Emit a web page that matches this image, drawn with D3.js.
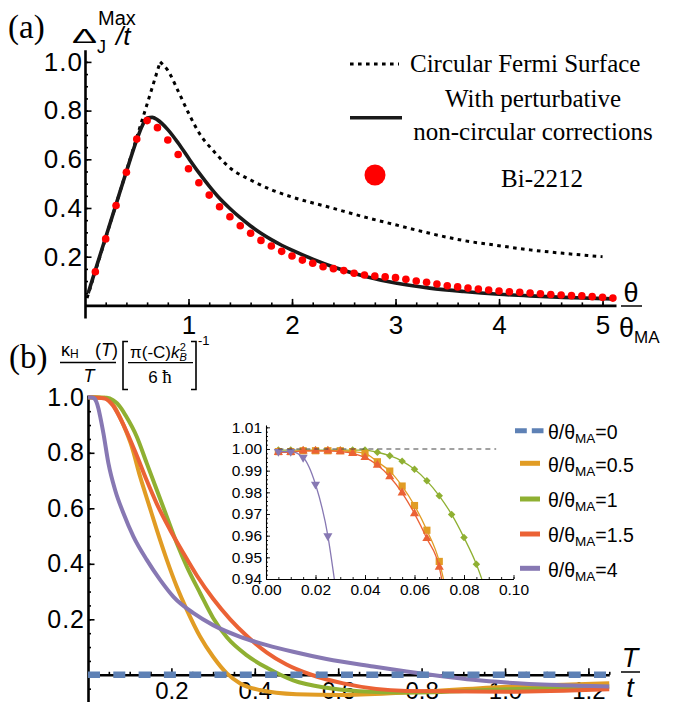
<!DOCTYPE html>
<html>
<head>
<meta charset="utf-8">
<script src="https://cdn.jsdelivr.net/npm/d3@7"></script>
<style>
  html, body { margin: 0; padding: 0; background: #fff; }
  svg { display: block; }
</style>
</head>
<body>
<svg id="fig" width="676" height="702"></svg>
<script>
// ---------------- panel (a): maximal Josephson gap vs twist angle ----------------
const dotTheta = [0.1,0.2,0.3,0.4,0.5,0.6,0.7,0.8,0.9,1.0,
                  1.1,1.2,1.3,1.4,1.5,1.6,1.7,1.8,1.9,2.0,
                  2.1,2.2,2.3,2.4,2.5,2.6,2.7,2.8,2.9,3.0,
                  3.1,3.2,3.3,3.4,3.5,3.6,3.7,3.8,3.9,4.0,
                  4.1,4.2,4.3,4.4,4.5,4.6,4.7,4.8,4.9,5.0,5.1];
const dotGap   = [0.138,0.273,0.410,0.547,0.683,0.759,0.730,0.679,0.620,0.561,
                  0.504,0.453,0.405,0.364,0.327,0.296,0.267,0.244,0.222,0.203,
                  0.186,0.173,0.159,0.151,0.143,0.132,0.125,0.121,0.117,0.114,
                  0.107,0.100,0.095,0.088,0.081,0.076,0.071,0.067,0.063,0.059,
                  0.056,0.054,0.051,0.048,0.045,0.043,0.040,0.039,0.036,0.033,0.030];

// circular Fermi surface (dotted): linear rise to a cusp, then slow decay
const circRiseTheta = [0.02, 0.726];
const circRiseGap   = [0.03, 1.0];
const circFallTheta = [0.726,0.8,0.9,1.0,1.1,1.25,1.4,1.6,1.8,2.0,2.37,2.69,3.01,3.33,3.65,3.97,4.3,4.62,5.0];
const circFallGap   = [1.0,0.965,0.88,0.79,0.71,0.63,0.565,0.515,0.475,0.445,0.402,0.364,0.33,0.296,0.267,0.247,0.228,0.214,0.20];

// with perturbative non-circular corrections (solid)
const pertTheta = [0.03,0.1,0.2,0.3,0.4,0.5,0.55,0.6,0.65,0.7,0.8,0.9,1.0,1.1,1.2,1.3,1.4,1.5,1.6,1.7,1.8,1.9,2.0,2.2,2.4,2.7,3.0,3.33,3.66,4.0,4.3,4.62,4.94,5.1];
const pertGap   = [0.05,0.145,0.28,0.415,0.55,0.68,0.735,0.77,0.772,0.762,0.722,0.667,0.605,0.545,0.49,0.44,0.398,0.36,0.326,0.296,0.27,0.247,0.227,0.19,0.158,0.12,0.092,0.071,0.057,0.046,0.039,0.033,0.029,0.027];

const aXMajor = [1,2,3,4,5];
const aYMajor = [0.2,0.4,0.6,0.8,1.0];

// ---------------- panel (b): thermal Hall conductivity ----------------
const ratioLabels = ["0","0.5","1","1.5","4"];
const seriesColors = ["#5E81B5","#E19C24","#8FB032","#EB6235","#8778B3"];

const tZero = [0, 1.25];
const kZero = [0, 0];

const tHalf = [0,0.04,0.05,0.06,0.07,0.085,0.105,0.125,0.145,0.165,0.189,0.213,0.237,0.269,0.300,0.333,0.365,0.412,0.5,0.604,0.764,1.004,1.25];
const kHalf = [1,0.998,0.99,0.974,0.948,0.9,0.822,0.714,0.618,0.522,0.414,0.317,0.234,0.137,0.065,0.005,-0.031,-0.055,-0.07,-0.073,-0.064,-0.043,-0.03];

const tOne = [0,0.045,0.06,0.07,0.08,0.09,0.117,0.141,0.165,0.189,0.213,0.237,0.269,0.300,0.333,0.381,0.429,0.492,0.572,0.65,0.764,1.004,1.25];
const kOne = [1,0.998,0.99,0.978,0.959,0.935,0.858,0.762,0.666,0.57,0.474,0.39,0.294,0.205,0.135,0.07,0.025,-0.02,-0.047,-0.059,-0.064,-0.052,-0.043];

const tOneHalf = [0,0.04,0.05,0.06,0.07,0.093,0.117,0.141,0.165,0.197,0.229,0.261,0.300,0.341,0.381,0.429,0.476,0.532,0.612,0.764,1.004,1.25];
const kOneHalf = [1,0.996,0.987,0.97,0.945,0.875,0.79,0.7,0.616,0.522,0.438,0.358,0.274,0.2,0.14,0.08,0.037,0.002,-0.031,-0.058,-0.061,-0.052];

const tFour = [0,0.01,0.015,0.02,0.025,0.03,0.037,0.049,0.065,0.085,0.109,0.141,0.173,0.205,0.253,0.300,0.365,0.429,0.492,0.572,0.684,0.764,0.844,0.924,1.004,1.124,1.25];
const kFour = [1,0.999,0.996,0.984,0.96,0.925,0.87,0.762,0.666,0.582,0.498,0.414,0.342,0.281,0.222,0.179,0.137,0.107,0.083,0.057,0.03,0.012,-0.004,-0.018,-0.028,-0.037,-0.042];

const bXMajor = [0.2,0.4,0.6,0.8,1.0,1.2];
const bYMajor = [0.2,0.4,0.6,0.8,1.0];

// inset: low-temperature detail, markers plus the point where each line leaves the frame
const insetTHalf = [0.005,0.01,0.015,0.02,0.025,0.03,0.035,0.04,0.045,0.05,0.055,0.06,0.065,0.07];
const insetKHalf = [0.9988,0.9988,0.9992,0.9992,0.9992,0.9992,0.9988,0.998,0.9941,0.9898,0.9829,0.9739,0.9625,0.9481];
const insetExitHalf = 0.0717;

const insetTOne = [0.005,0.01,0.015,0.02,0.025,0.03,0.035,0.04,0.045,0.05,0.055,0.06,0.065,0.07,0.075,0.08,0.085];
const insetKOne = [0.9995,0.9995,0.9995,0.9995,0.9995,0.9995,0.9995,0.9995,0.9985,0.9969,0.9944,0.9906,0.9853,0.9784,0.9698,0.9591,0.9468];
const insetExitOne = 0.0872;

const insetTOneHalf = [0.005,0.01,0.015,0.02,0.025,0.03,0.035,0.04,0.045,0.05,0.055,0.06,0.065,0.07];
const insetKOneHalf = [0.9985,0.9985,0.9991,0.9991,0.9991,0.9988,0.998,0.9961,0.9926,0.9872,0.9798,0.9702,0.9587,0.9455];
const insetExitOneHalf = 0.071;

const insetTFour = [0.005,0.01,0.015,0.02,0.025];
const insetKFour = [0.9988,0.9988,0.9961,0.9837,0.9599];
const insetExitFour = 0.0276;

const insetXMajor = [0,0.02,0.04,0.06,0.08,0.10];
const insetYMajor = [0.94,0.95,0.96,0.97,0.98,0.99,1.00,1.01];
const insetRef = 1.0;

// ---------------------------------------------------------------------------
const SANS = "'Liberation Sans', Arial, Helvetica, sans-serif";
const SERIF = "'Liberation Serif', 'Times New Roman', Times, serif";
const svg = d3.select("#fig");
svg.append("rect").attr("width", 676).attr("height", 702).attr("fill", "#fff");

const zip = (xs, ys) => xs.map((x, i) => [x, ys[i]]);
const steps = (a, b, s) => d3.range(Math.round((b - a) / s) + 1).map(i => +(a + i * s).toFixed(6));

function styleAxis(g, o, fs, ls) {
  g.select(".domain").attr("stroke", "#000").attr("stroke-width", o.lw);
  g.selectAll(".tick line").attr("stroke", "#000").attr("stroke-width", o.tw);
  g.selectAll(".tick text").attr("font-family", SANS).attr("font-size", fs)
    .attr("letter-spacing", ls || 0).attr("fill", "#000");
}

function axes(parent, x, y, o) {
  const g = parent.append("g");
  const xAt = y(o.xAt), yAt = x(o.yAt);
  // minor ticks
  g.append("g").attr("transform", `translate(0,${xAt})`)
    .call(d3.axisBottom(x).tickValues(o.xMinor).tickSize(-o.minLen).tickFormat(""))
    .call(s => { s.select(".domain").remove(); s.selectAll("line").attr("stroke", "#000").attr("stroke-width", o.tw); });
  g.append("g").attr("transform", `translate(${yAt},0)`)
    .call(d3.axisLeft(y).tickValues(o.yMinor).tickSize(-o.minLen).tickFormat(""))
    .call(s => { s.select(".domain").remove(); s.selectAll("line").attr("stroke", "#000").attr("stroke-width", o.tw); });
  // major ticks, labels and axis lines
  g.append("g").attr("transform", `translate(0,${xAt})`)
    .call(d3.axisBottom(x).tickValues(o.xMajor).tickSize(-o.majLen).tickSizeOuter(0)
      .tickPadding(o.xPad).tickFormat(o.xFmt))
    .call(s => styleAxis(s, o, o.xfs, o.xls));
  g.append("g").attr("transform", `translate(${yAt},0)`)
    .call(d3.axisLeft(y).tickValues(o.yMajor).tickSize(-o.majLen).tickSizeOuter(0)
      .tickPadding(o.yPad).tickFormat(o.yFmt))
    .call(s => styleAxis(s, o, o.yfs, o.yls));
  return g;
}

// =========================== panel (a) ===========================
const xA = d3.scaleLinear().domain([0, 5.13]).range([85, 616]);
const yA = d3.scaleLinear().domain([-0.052, 1.05]).range([305.4 + 0.052 * 243.5, 305.4 - 1.05 * 243.5]);

const pa = svg.append("g");
axes(pa, xA, yA, {
  xAt: 0, yAt: 0, lw: 2.6, tw: 1.6, xfs: 26, yfs: 26, xls: 0, yls: 1, majLen: 6.5, minLen: 3,
  xMajor: aXMajor, xMinor: steps(0.2, 5.0, 0.2), xPad: 10, xFmt: d3.format("d"),
  yMajor: aYMajor, yMinor: steps(0.05, 1.0, 0.05), yPad: 2, yFmt: d3.format(".1f")
});

const lineA = d3.line().x(d => xA(d[0])).y(d => yA(d[1]));
pa.append("path").datum(zip(circRiseTheta, circRiseGap))
  .attr("d", lineA.curve(d3.curveLinear))
  .attr("fill", "none").attr("stroke", "#000").attr("stroke-width", 3).attr("stroke-dasharray", "3.6 4.4");
pa.append("path").datum(zip(circFallTheta, circFallGap))
  .attr("d", d3.line().x(d => xA(d[0])).y(d => yA(d[1])).curve(d3.curveMonotoneX))
  .attr("fill", "none").attr("stroke", "#000").attr("stroke-width", 3).attr("stroke-dasharray", "3.6 4.4");
pa.append("path").datum(zip(pertTheta, pertGap))
  .attr("d", d3.line().x(d => xA(d[0])).y(d => yA(d[1])).curve(d3.curveMonotoneX))
  .attr("fill", "none").attr("stroke", "#1a1a1a").attr("stroke-width", 3.6);
pa.append("g").selectAll("circle").data(zip(dotTheta, dotGap)).join("circle")
  .attr("cx", d => xA(d[0])).attr("cy", d => yA(d[1])).attr("r", 3.8).attr("fill", "#FF0000");

// panel label and axis titles
svg.append("text").attr("x", 8).attr("y", 38).attr("font-family", SERIF).attr("font-size", 33).text("(a)");
svg.append("text").attr("x", 72).attr("y", 43).attr("font-family", SANS).attr("font-size", 21)
  .attr("textLength", 25).attr("lengthAdjust", "spacingAndGlyphs").text("Δ");
svg.append("text").attr("x", 97).attr("y", 53).attr("font-family", SANS).attr("font-size", 18).text("J");
svg.append("text").attr("x", 98).attr("y", 25).attr("font-family", SANS).attr("font-size", 20).text("Max");
svg.append("text").attr("x", 116).attr("y", 45).attr("font-family", SANS).attr("font-size", 26)
  .attr("font-style", "italic").text("/t");

// θ/θ_MA
svg.append("text").attr("x", 631).attr("y", 302).attr("text-anchor", "middle")
  .attr("font-family", SANS).attr("font-size", 27).text("θ");
svg.append("line").attr("x1", 621).attr("x2", 642).attr("y1", 306).attr("y2", 306).attr("stroke", "#000").attr("stroke-width", 1.5);
const thMA = svg.append("text").attr("x", 619).attr("y", 337).attr("font-family", SANS).attr("font-size", 27);
thMA.append("tspan").text("θ");
thMA.append("tspan").attr("font-size", 17).attr("dy", 6).text("MA");

// legend (a)
const legA = svg.append("g").attr("font-family", SERIF).attr("font-size", 25).attr("fill", "#000");
legA.append("line").attr("x1", 350).attr("x2", 399).attr("y1", 64).attr("y2", 64)
  .attr("stroke", "#000").attr("stroke-width", 3).attr("stroke-dasharray", "3.6 4.4");
legA.append("text").attr("x", 410).attr("y", 72).text("Circular Fermi Surface");
legA.append("line").attr("x1", 350).attr("x2", 402).attr("y1", 117.7).attr("y2", 117.7)
  .attr("stroke", "#1a1a1a").attr("stroke-width", 3.4);
legA.append("text").attr("x", 533).attr("y", 107).attr("text-anchor", "middle").text("With perturbative");
legA.append("text").attr("x", 533).attr("y", 140).attr("text-anchor", "middle").text("non-circular corrections");
legA.append("circle").attr("cx", 375).attr("cy", 175).attr("r", 10.5).attr("fill", "#FF0000");
legA.append("text").attr("x", 542).attr("y", 187).attr("text-anchor", "middle").text("Bi-2212");

// =========================== panel (b) ===========================
const xB = d3.scaleLinear().domain([0, 1.25]).range([88, 88 + 1.25 * 417]);
const yB = d3.scaleLinear().domain([-0.1, 1.008]).range([674.8 + 0.1 * 277.5, 674.8 - 1.008 * 277.5]);

const pb = svg.append("g");
axes(pb, xB, yB, {
  xAt: 0, yAt: 0, lw: 2.6, tw: 1.6, xfs: 24, yfs: 25, xls: 0, yls: 1, majLen: 6.5, minLen: 3,
  xMajor: bXMajor, xMinor: steps(0.05, 1.25, 0.05), xPad: 7, xFmt: d3.format(".1f"),
  yMajor: bYMajor, yMinor: steps(-0.1, 1.0, 0.05), yPad: 3, yFmt: d3.format(".1f")
});

const lineB = d3.line().x(d => xB(d[0])).y(d => yB(d[1])).curve(d3.curveMonotoneX);
const curvesB = [
  { t: tHalf, k: kHalf, c: seriesColors[1] },
  { t: tOne, k: kOne, c: seriesColors[2] },
  { t: tOneHalf, k: kOneHalf, c: seriesColors[3] },
  { t: tFour, k: kFour, c: seriesColors[4] }
];
pb.append("g").selectAll("path").data(curvesB).join("path")
  .attr("d", d => lineB(zip(d.t, d.k)))
  .attr("fill", "none").attr("stroke", d => d.c).attr("stroke-width", 4).attr("stroke-linejoin", "round");
pb.append("path").datum(zip(tZero, kZero)).attr("d", lineB)
  .attr("fill", "none").attr("stroke", seriesColors[0]).attr("stroke-width", 6.5)
  .attr("stroke-dasharray", "12 13.3");

// panel label and y-axis title
svg.append("text").attr("x", 9).attr("y", 368).attr("font-family", SERIF).attr("font-size", 33).text("(b)");
const yt = svg.append("g").attr("font-family", SANS).attr("fill", "#000");
const kap = yt.append("text").attr("x", 61).attr("y", 356).attr("font-size", 18);
kap.append("tspan").text("κ");
kap.append("tspan").attr("font-size", 12).attr("dy", 2).text("H");
kap.append("tspan").attr("dy", -2).attr("x", 95).text("(");
kap.append("tspan").attr("font-style", "italic").text("T");
kap.append("tspan").text(")");
yt.append("line").attr("x1", 60).attr("x2", 116).attr("y1", 362.5).attr("y2", 362.5).attr("stroke", "#000").attr("stroke-width", 1.3);
yt.append("text").attr("x", 89).attr("y", 382).attr("text-anchor", "middle").attr("font-size", 18).attr("font-style", "italic").text("T");
// square brackets
yt.append("path").attr("d", "M128,341.5 H123 V389.5 H128").attr("fill", "none").attr("stroke", "#000").attr("stroke-width", 1.6);
yt.append("path").attr("d", "M191,341.5 H196 V389.5 H191").attr("fill", "none").attr("stroke", "#000").attr("stroke-width", 1.6);
const num = yt.append("text").attr("x", 130).attr("y", 358).attr("font-size", 17);
num.append("tspan").text("π(-C)");
num.append("tspan").attr("font-style", "italic").text("k");
num.append("tspan").attr("font-size", 11).attr("font-style", "italic").attr("dy", 3).text("B");
num.append("tspan").attr("font-size", 11).attr("dx", -7).attr("dy", -10).text("2");
yt.append("line").attr("x1", 128).attr("x2", 193).attr("y1", 362.7).attr("y2", 362.7).attr("stroke", "#000").attr("stroke-width", 1.2);
const den = yt.append("text").attr("x", 160).attr("y", 383).attr("text-anchor", "middle").attr("font-size", 17);
den.append("tspan").text("6 ");
den.append("tspan").attr("font-family", SERIF).attr("font-size", 19).text("ħ");
yt.append("text").attr("x", 198).attr("y", 345).attr("font-size", 13).text("-1");

// T/t
svg.append("text").attr("x", 630).attr("y", 667).attr("text-anchor", "middle")
  .attr("font-family", SANS).attr("font-size", 27).attr("font-style", "italic").text("T");
svg.append("line").attr("x1", 621).attr("x2", 640).attr("y1", 672).attr("y2", 672).attr("stroke", "#000").attr("stroke-width", 1.5);
svg.append("text").attr("x", 630).attr("y", 697).attr("text-anchor", "middle")
  .attr("font-family", SANS).attr("font-size", 27).attr("font-style", "italic").text("t");

// legend (b)
const legB = svg.append("g").attr("font-family", SANS).attr("fill", "#000");
const legY = [430.7, 463.3, 499, 534, 568.3];
ratioLabels.forEach((r, i) => {
  if (i === 0) {
    legB.append("line").attr("x1", 515).attr("x2", 543.5).attr("y1", legY[i]).attr("y2", legY[i])
      .attr("stroke", seriesColors[i]).attr("stroke-width", 5).attr("stroke-dasharray", "11.8 5");
  } else {
    legB.append("line").attr("x1", 520).attr("x2", 540).attr("y1", legY[i]).attr("y2", legY[i])
      .attr("stroke", seriesColors[i]).attr("stroke-width", 5);
  }
  const t = legB.append("text").attr("x", 548).attr("y", legY[i] + 8.3).attr("font-size", 19.5);
  t.append("tspan").text("θ/θ");
  t.append("tspan").attr("font-size", 13.5).attr("dy", 4).text("MA");
  t.append("tspan").attr("dy", -4).text("=" + r);
});

// =========================== inset ===========================
const xI = d3.scaleLinear().domain([0, 0.1]).range([266, 513.5]);
const yI = d3.scaleLinear().domain([0.94, 1.0111]).range([579, 579 - 0.0711 * 2166.7]);
const pi = svg.append("g");
axes(pi, xI, yI, {
  xAt: 0.94, yAt: 0, lw: 1.1, tw: 0.9, xfs: 15.5, yfs: 15.5, xls: 0, yls: 0, majLen: 4, minLen: 2,
  xMajor: insetXMajor, xMinor: steps(0.005, 0.1, 0.005), xPad: 5, xFmt: d3.format(".2f"),
  yMajor: insetYMajor, yMinor: steps(0.942, 1.01, 0.002), yPad: 4, yFmt: d3.format(".2f")
});

pi.append("clipPath").attr("id", "insetClip").append("rect")
  .attr("x", 266).attr("y", 420).attr("width", 250).attr("height", 579 - 420);
const lineI = d3.line().x(d => xI(d[0])).y(d => yI(d[1])).curve(d3.curveMonotoneX);
const insetSeries = [
  { t: insetTOne, k: insetKOne, exit: insetExitOne, c: seriesColors[2], sym: d3.symbolSquare, size: 28, rot: 45 },
  { t: insetTHalf, k: insetKHalf, exit: insetExitHalf, c: seriesColors[1], sym: d3.symbolSquare, size: 52, rot: 0 },
  { t: insetTOneHalf, k: insetKOneHalf, exit: insetExitOneHalf, c: seriesColors[3], sym: d3.symbolTriangle, size: 36, rot: 0 },
  { t: insetTFour, k: insetKFour, exit: insetExitFour, c: seriesColors[4], sym: d3.symbolTriangle, size: 36, rot: 180 }
];
const ig = pi.append("g").attr("clip-path", "url(#insetClip)");
insetSeries.forEach(s => {
  const pts = zip(s.t, s.k);
  ig.append("path").datum(pts.concat([[s.exit, 0.94]])).attr("d", lineI)
    .attr("fill", "none").attr("stroke", s.c).attr("stroke-width", 1.3);
  ig.append("g").selectAll("path").data(pts).join("path")
    .attr("d", d3.symbol().type(s.sym).size(s.size))
    .attr("transform", d => `translate(${xI(d[0])},${yI(d[1])}) rotate(${s.rot})`)
    .attr("fill", s.c);
});
ig.append("line").attr("x1", xI(0.005)).attr("x2", xI(0.093)).attr("y1", yI(insetRef)).attr("y2", yI(insetRef))
  .attr("stroke", "#444").attr("stroke-width", 1.2).attr("stroke-dasharray", "5 4");
</script>
</body>
</html>
